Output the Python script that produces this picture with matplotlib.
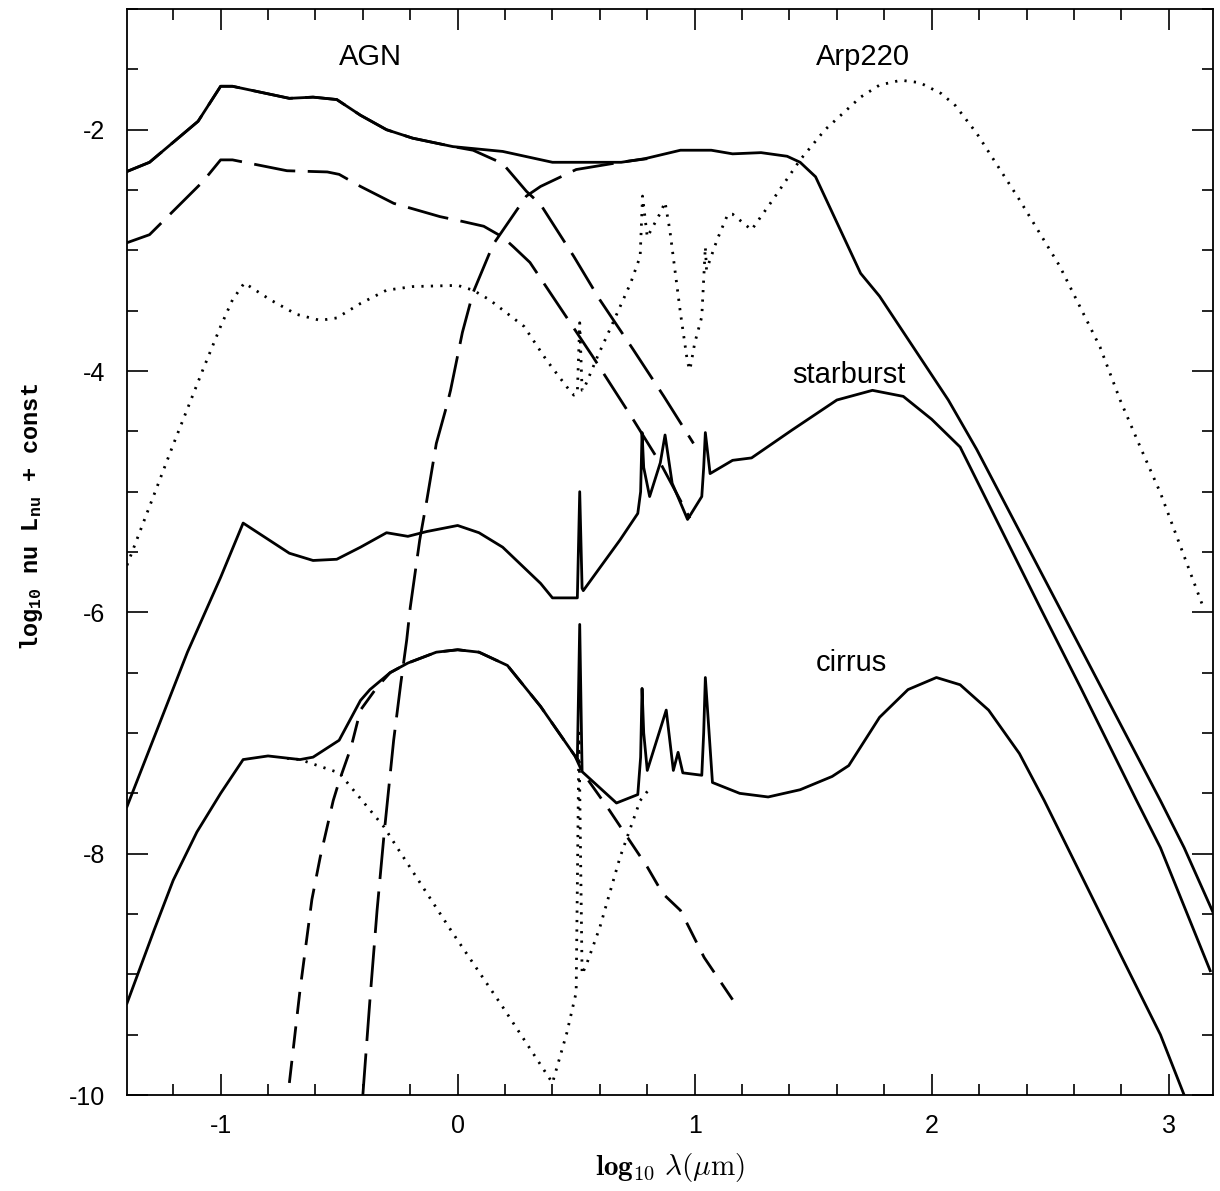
import numpy as np
import matplotlib
matplotlib.use("Agg")
import matplotlib.pyplot as plt
from matplotlib.ticker import MultipleLocator

plt.rcParams['axes.unicode_minus'] = False
plt.rcParams['font.family'] = ['Liberation Sans', 'DejaVu Sans']
plt.rcParams['mathtext.rm'] = 'Liberation Mono:bold'
plt.rcParams['mathtext.it'] = 'Liberation Mono:bold'
plt.rcParams['mathtext.bf'] = 'Liberation Mono:bold'

# AGN total (solid)
agn_x = [-1.40, -1.30, -1.095, -1.0, -0.95, -0.71, -0.61, -0.51, -0.41, -0.30, -0.19, -0.02,
         0.19, 0.40, 0.69, 0.79, 0.94, 1.07, 1.16, 1.28, 1.39, 1.445, 1.51, 1.70, 1.78,
         2.07, 2.19, 2.965, 3.065, 3.19]
agn_y = [-2.35, -2.27, -1.93, -1.64, -1.64, -1.74, -1.73, -1.75, -1.88, -2.0, -2.07, -2.14,
         -2.18, -2.27, -2.27, -2.24, -2.17, -2.17, -2.20, -2.19, -2.22, -2.27, -2.39, -3.19, -3.38,
         -4.24, -4.65, -7.56, -7.95, -8.50]

# AGN disk component (long dash, follows total then falls)
disk_x = [-1.40, -1.30, -1.095, -1.0, -0.95, -0.71, -0.61, -0.51, -0.41, -0.30, -0.19, -0.02,
          0.065, 0.19, 0.29, 0.35, 0.49, 0.60, 0.74, 0.87, 0.995]
disk_y = [-2.35, -2.27, -1.93, -1.64, -1.64, -1.74, -1.73, -1.75, -1.88, -2.0, -2.07, -2.14,
          -2.17, -2.28, -2.51, -2.62, -3.05, -3.41, -3.82, -4.21, -4.60]

# second disk curve (long dash, lower)
disk2_x = [-1.40, -1.30, -1.075, -1.0, -0.95, -0.72, -0.55, -0.50, -0.41, -0.27, -0.075, 0.02,
           0.11, 0.19, 0.235, 0.305, 0.39, 0.475, 0.57, 0.74, 0.86, 0.98]
disk2_y = [-2.94, -2.87, -2.43, -2.25, -2.25, -2.34, -2.35, -2.37, -2.47, -2.61, -2.72, -2.76,
           -2.80, -2.89, -2.97, -3.10, -3.35, -3.60, -3.88, -4.40, -4.78, -5.22]

# torus dust (long dash, steep rise)
torus_x = [-0.40, -0.37, -0.34, -0.31, -0.27, -0.24, -0.215, -0.20, -0.16, -0.13, -0.09, -0.045,
           -0.03, 0.02, 0.065, 0.15, 0.29, 0.35, 0.50, 0.685, 0.80]
torus_y = [-10.0, -9.21, -8.47, -7.83, -7.06, -6.59, -6.23, -5.96, -5.40, -5.07, -4.60, -4.28,
           -4.16, -3.68, -3.35, -2.95, -2.55, -2.47, -2.33, -2.27, -2.24]

# Arp220 (dotted)
arp_x = [-1.395, -1.2, -1.075, -1.0, -0.95, -0.90, -0.79, -0.68, -0.58, -0.51, -0.41, -0.30,
         -0.19, 0.0, 0.065, 0.135, 0.28, 0.375, 0.46, 0.49, 0.505, 0.515, 0.525, 0.53, 0.59,
         0.655, 0.73, 0.77, 0.78, 0.80, 0.855, 0.875, 0.895, 0.94, 0.97, 0.98, 1.0, 1.03, 1.045,
         1.05, 1.095, 1.14, 1.16, 1.24, 1.33, 1.445, 1.55, 1.70, 1.78, 1.87, 1.95, 2.04, 2.10,
         2.19, 2.37, 2.54, 2.71, 2.795, 2.88, 2.965, 3.15]
arp_y = [-5.61, -4.61, -3.99, -3.63, -3.41, -3.27, -3.41, -3.53, -3.58, -3.56, -3.44, -3.33,
         -3.30, -3.29, -3.33, -3.41, -3.63, -3.91, -4.13, -4.20, -4.18, -3.60, -4.16, -4.16, -3.88,
         -3.60, -3.27, -3.05, -2.55, -2.89, -2.69, -2.60, -2.83, -3.52, -3.93, -3.99, -3.77, -3.55, -2.97,
         -3.16, -2.91, -2.70, -2.70, -2.83, -2.58, -2.25, -2.0, -1.73, -1.63, -1.59, -1.61, -1.70, -1.80,
         -2.03, -2.58, -3.13, -3.80, -4.24, -4.63, -5.01, -5.98]

# starburst (solid)
sb_x = [-1.395, -1.14, -1.0, -0.905, -0.71, -0.61, -0.51, -0.41, -0.30, -0.21, -0.13, 0.0,
        0.09, 0.19, 0.35, 0.40, 0.49, 0.505, 0.515, 0.525, 0.53, 0.60, 0.685, 0.76, 0.772,
        0.778, 0.785, 0.81, 0.855, 0.875, 0.905, 0.97, 1.03, 1.038, 1.045, 1.065, 1.16, 1.24,
        1.41, 1.60, 1.75, 1.88, 2.0, 2.12, 2.29, 2.46, 2.63, 2.862, 2.965, 3.175]
sb_y = [-7.61, -6.33, -5.71, -5.26, -5.51, -5.57, -5.56, -5.46, -5.34, -5.37, -5.33, -5.28,
        -5.34, -5.46, -5.76, -5.88, -5.88, -5.88, -5.0, -5.80, -5.82, -5.63, -5.40, -5.18, -5.0,
        -4.51, -4.80, -5.04, -4.76, -4.53, -4.93, -5.23, -5.04, -4.80, -4.51, -4.85, -4.74, -4.72,
        -4.49, -4.24, -4.16, -4.21, -4.40, -4.63, -5.30, -5.97, -6.63, -7.55, -7.95, -8.97]

# cirrus (solid)
ci_x = [-1.395, -1.28, -1.20, -1.10, -1.0, -0.905, -0.80, -0.665, -0.61, -0.50, -0.41, -0.37,
        -0.285, -0.21, -0.09, 0.0, 0.09, 0.21, 0.35, 0.495, 0.505, 0.515, 0.525, 0.67, 0.76,
        0.772, 0.778, 0.785, 0.80, 0.88, 0.91, 0.93, 0.95, 1.03, 1.038, 1.045, 1.075, 1.19, 1.31,
        1.445, 1.58, 1.65, 1.78, 1.90, 2.02, 2.12, 2.24, 2.37, 2.475, 2.80, 2.965, 3.065]
ci_y = [-9.24, -8.63, -8.22, -7.82, -7.50, -7.22, -7.19, -7.22, -7.20, -7.06, -6.73, -6.64,
        -6.50, -6.42, -6.33, -6.31, -6.33, -6.44, -6.78, -7.19, -7.22, -6.10, -7.32, -7.58, -7.51,
        -7.20, -6.63, -7.00, -7.31, -6.81, -7.31, -7.16, -7.33, -7.35, -7.00, -6.54, -7.41, -7.50, -7.53,
        -7.47, -7.36, -7.27, -6.87, -6.64, -6.54, -6.60, -6.81, -7.17, -7.56, -8.85, -9.50, -10.0]

# cirrus stellar component (dotted)
cs_x = [-0.72, -0.665, -0.50, -0.31, -0.255, -0.02, 0.19, 0.40, 0.46, 0.50, 0.512, 0.525,
        0.545, 0.60, 0.685, 0.77, 0.81]
cs_y = [-7.21, -7.22, -7.33, -7.78, -7.95, -8.66, -9.27, -9.90, -9.49, -9.15, -7.00, -9.00,
        -8.91, -8.61, -8.03, -7.56, -7.46]

# cirrus warm component (short dash)
cw_x = [-0.71, -0.665, -0.615, -0.58, -0.525, -0.50, -0.45, -0.41, -0.34, -0.285, -0.21, -0.09,
        0.0, 0.09, 0.21, 0.35, 0.495, 0.525, 0.63, 0.715, 0.80, 0.865, 0.94, 1.04, 1.16]
cw_y = [-9.90, -9.13, -8.38, -8.03, -7.56, -7.40, -7.12, -6.81, -6.62, -6.50, -6.42, -6.33,
        -6.31, -6.33, -6.44, -6.78, -7.19, -7.32, -7.61, -7.86, -8.11, -8.33, -8.47, -8.86, -9.21]

labels = ['AGN', 'Arp220', 'starburst', 'cirrus']
label_x = [-0.37, 1.71, 1.65, 1.66]
label_y = [-1.40, -1.40, -4.03, -6.42]

fig = plt.figure(figsize=(12.2, 11.91), dpi=100)
ax = fig.add_axes([0.1041, 0.0806, 0.8902, 0.9118])

lw = 2.0
long_dash = (0, (15, 4.5))
short_dash = (0, (8, 4.5))
dots = (0, (0.8, 2.6))

ax.plot(agn_x, agn_y, color='black', lw=lw)
ax.plot(disk_x, disk_y, color='black', lw=lw, linestyle=long_dash)
ax.plot(disk2_x, disk2_y, color='black', lw=lw, linestyle=long_dash)
ax.plot(torus_x, torus_y, color='black', lw=lw, linestyle=long_dash)
ax.plot(arp_x, arp_y, color='black', lw=lw, linestyle=dots)
ax.plot(sb_x, sb_y, color='black', lw=lw)
ax.plot(ci_x, ci_y, color='black', lw=lw)
ax.plot(cs_x, cs_y, color='black', lw=lw, linestyle=dots)
ax.plot(cw_x, cw_y, color='black', lw=lw, linestyle=short_dash)

for t, x, y in zip(labels, label_x, label_y):
    ax.text(x, y, t, fontsize=21, ha='center', va='center')

ax.set_xlim(-1.395, 3.187)
ax.set_ylim(-10, -1.0)
ax.xaxis.set_major_locator(MultipleLocator(1))
ax.xaxis.set_minor_locator(MultipleLocator(0.2))
ax.yaxis.set_major_locator(MultipleLocator(2))
ax.yaxis.set_minor_locator(MultipleLocator(0.5))
ax.tick_params(which='both', direction='in', top=True, right=True, width=1.2, labelsize=18)
ax.tick_params(which='major', length=15, pad=14)
ax.tick_params(which='minor', length=8)
ax.tick_params(axis='y', which='major', pad=16)
for s in ax.spines.values():
    s.set_linewidth(1.3)

fig.text(670 / 1220, 1 - 1168 / 1191, r'$\mathbf{log_{10}}\ \lambda(\mu{\rm m})$',
         fontsize=21, ha='center', va='center', math_fontfamily='cm')
fig.text(32 / 1220, 1 - 517 / 1191, r'log$_{10}$ nu L$_{\rm nu}$ + const',
         fontsize=17, ha='center', va='center', rotation=90,
         family='Liberation Mono', weight='bold', math_fontfamily='custom')

fig.savefig('out.png', dpi=100)
